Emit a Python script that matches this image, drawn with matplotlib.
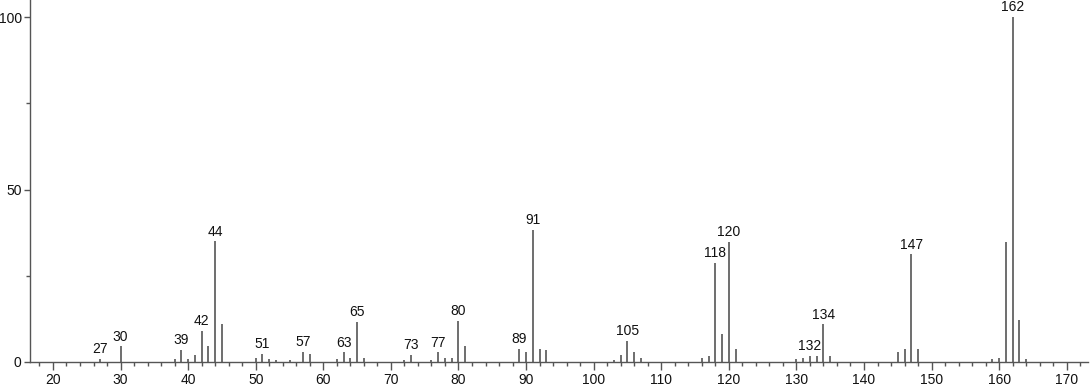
import matplotlib
matplotlib.use("Agg")
import matplotlib.pyplot as plt
from matplotlib.ticker import MultipleLocator

plt.rcParams['font.family'] = ['Liberation Sans', 'DejaVu Sans']

mz = [27, 30, 38, 39, 40, 41, 42, 43, 44, 45, 50, 51, 52, 53, 55, 57, 58,
      62, 63, 64, 65, 66, 72, 73, 76, 77, 78, 79, 80, 81, 89, 90, 91, 92, 93,
      103, 104, 105, 106, 107, 116, 117, 118, 119, 120, 121,
      130, 131, 132, 133, 134, 135, 145, 146, 147, 148,
      159, 160, 161, 162, 163, 164]
intensity = [0.9, 4.5, 0.8, 3.5, 0.8, 2.0, 9.1, 4.6, 35.0, 11.0, 1.1, 2.4, 0.9, 0.6, 0.6, 2.9, 2.4,
             0.9, 2.8, 1.1, 11.6, 1.1, 0.5, 2.0, 0.6, 2.8, 1.1, 1.1, 11.9, 4.7, 3.8, 2.9, 38.3, 3.9, 3.4,
             0.6, 1.9, 6.1, 2.9, 1.1, 1.2, 1.7, 28.8, 8.0, 34.9, 3.7,
             0.9, 1.3, 1.8, 1.6, 10.9, 1.8, 2.9, 3.7, 31.2, 3.7,
             0.8, 1.2, 34.8, 100.0, 12.3, 0.9]
labeled = [27, 30, 39, 42, 44, 51, 57, 63, 65, 73, 77, 80, 89, 91, 105,
           118, 120, 132, 134, 147, 162]

fig = plt.figure(figsize=(10.91, 3.87), dpi=100)
ax = fig.add_axes([0.0275, 0.0646, 0.9695, 0.9354])

ax.vlines(mz, 0, intensity, colors='#555555', linewidth=1.2)

for m, v in zip(mz, intensity):
    if m in labeled:
        ax.annotate(str(m), (m, v), xytext=(0, 2), textcoords='offset points',
                    ha='center', va='bottom', fontsize=10, color='#111111')

ax.set_xlim(16.6, 173.1)
ax.set_ylim(0, 105)
ax.set_xticks(range(20, 171, 10))
ax.xaxis.set_minor_locator(MultipleLocator(2))
ax.set_yticks([0, 50, 100])
ax.set_yticks([25, 75], minor=True)

for s in ['top', 'right']:
    ax.spines[s].set_visible(False)
for s in ['left', 'bottom']:
    ax.spines[s].set_color('#555555')
    ax.spines[s].set_linewidth(1.0)

ax.tick_params(axis='x', which='major', length=6, width=1.0, color='#555555',
               labelsize=10, labelcolor='#111111', pad=2)
ax.tick_params(axis='x', which='minor', length=3, width=1.0, color='#555555')
ax.tick_params(axis='y', which='major', length=4, width=1.0, color='#555555',
               labelsize=10, labelcolor='#111111', pad=2)
ax.tick_params(axis='y', which='minor', length=3, width=1.0, color='#555555')

fig.savefig('out.png', dpi=100)
